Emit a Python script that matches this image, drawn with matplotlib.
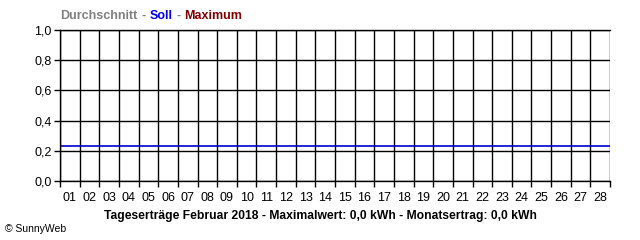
import matplotlib
matplotlib.use('Agg')
import matplotlib.pyplot as plt
import numpy as np

# Tageserträge Februar 2018 (all zero), Soll line
days = [f"{d:02d}" for d in range(1, 29)]
ertrag = [0.0] * 28
soll = [0.235] * 28
y_ticks = [0.0, 0.2, 0.4, 0.6, 0.8, 1.0]
y_labels = ["0,0", "0,2", "0,4", "0,6", "0,8", "1,0"]

plt.rcParams['font.family'] = ['Liberation Sans', 'DejaVu Sans']

fig = plt.figure(figsize=(6.4, 2.4), dpi=100)
ax = fig.add_axes((60 / 640, 1 - 181 / 240, 550 / 640, 151 / 240))

x = np.arange(len(days))
ax.bar(x + 0.5, ertrag, width=0.8, color='#00aa00')

# Soll as a step line over the days
xs = np.repeat(np.arange(len(days) + 1), 2)[1:-1]
ax.plot(xs, np.repeat(soll, 2), color='#0000cc', lw=1.2)

ax.set_xlim(0, len(days))
ax.set_ylim(0, 1.0)
ax.set_yticks(y_ticks)
ax.set_yticklabels(y_labels, fontsize=9)
ax.set_xticks(np.arange(len(days) + 1))
ax.set_xticklabels([])
ax.set_xticks(x + 0.5, minor=True)
ax.set_xticklabels(days, minor=True, fontsize=9)
ax.tick_params(axis='x', which='minor', length=0, pad=8)
ax.tick_params(axis='x', which='major', length=4, width=1, color='black')
ax.tick_params(axis='y', length=4, width=1, pad=2)
ax.grid(True, which='major', color='black', lw=1)
for s in ax.spines.values():
    s.set_color('black')
    s.set_linewidth(1)
ax.spines['right'].set_visible(False)
ax.set_axisbelow(True)

# legend-like title built piece by piece
fig.canvas.draw()
renderer = fig.canvas.get_renderer()
parts = [("Durchschnitt", '#808080'), ("-", '#808080'), ("Soll", '#0000ee'),
         ("-", '#808080'), ("Maximum", '#800000')]
xpos = 60
for txt, col in parts:
    t = fig.text(xpos / 640, 1 - 16 / 240, txt, color=col, fontsize=9, fontweight='bold', va='center')
    bb = t.get_window_extent(renderer)
    xpos += bb.width + 4

fig.text(320 / 640, 1 - 216 / 240,
         "Tageserträge Februar 2018 - Maximalwert: 0,0 kWh - Monatsertrag: 0,0 kWh",
         fontsize=8.7, fontweight='bold', ha='center', va='center')
fig.text(5 / 640, 1 - 229 / 240, "© SunnyWeb", fontsize=7.5, va='center')

fig.savefig('out.png', dpi=100, facecolor='white')
